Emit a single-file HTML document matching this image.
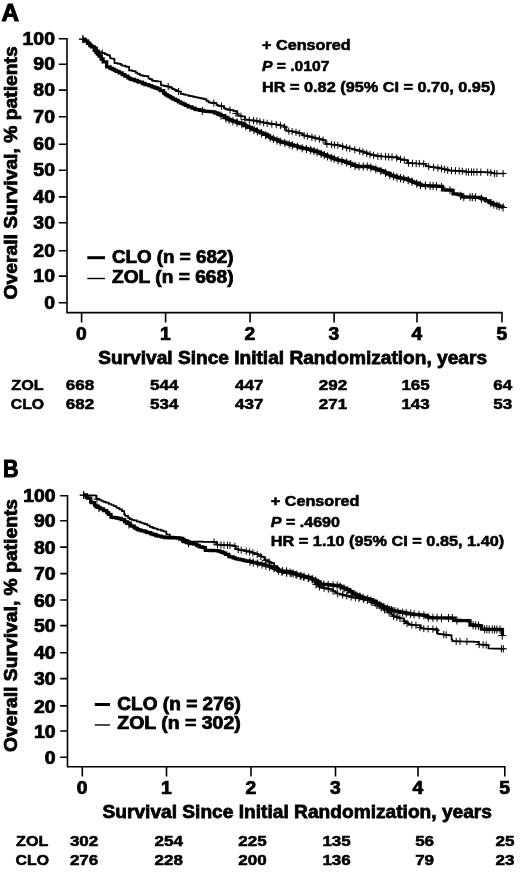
<!DOCTYPE html>
<html><head><meta charset="utf-8"><title>Overall survival</title>
<style>html,body{margin:0;padding:0;background:#fff}svg{display:block}text{font-family:"Liberation Sans", sans-serif;font-weight:bold;fill:#000;stroke:#000}</style>
</head><body>
<svg width="520" height="872" viewBox="0 0 520 872">
<rect width="520" height="872" fill="#fff"/>
<text transform="translate(1.60,21.10) scale(1.0373,1)" font-size="23.5" stroke-width="1.0">A</text>
<path d="M67.0 37.95V312.6H502.75" fill="none" stroke="#000" stroke-width="1.6"/>
<path d="M58.80 38.70H67.0M58.80 64.20H67.0M58.80 90.10H67.0M58.80 116.80H67.0M58.80 144.30H67.0M58.80 170.20H67.0M58.80 196.90H67.0M58.80 222.75H67.0M58.80 250.80H67.0M58.80 276.10H67.0M58.80 302.80H67.0M81.60 312.6V322.40M165.60 312.6V322.40M250.10 312.6V322.40M334.10 312.6V322.40M417.00 312.6V322.40M502.00 312.6V322.40" fill="none" stroke="#000" stroke-width="1.6"/>
<text transform="translate(22.55,44.60) scale(1.1100,1)" font-size="17.5" stroke-width="0.75">100</text>
<text transform="translate(33.35,70.10) scale(1.1100,1)" font-size="17.5" stroke-width="0.75">90</text>
<text transform="translate(33.35,96.00) scale(1.1100,1)" font-size="17.5" stroke-width="0.75">80</text>
<text transform="translate(33.35,122.70) scale(1.1100,1)" font-size="17.5" stroke-width="0.75">70</text>
<text transform="translate(33.35,150.20) scale(1.1100,1)" font-size="17.5" stroke-width="0.75">60</text>
<text transform="translate(33.35,176.10) scale(1.1100,1)" font-size="17.5" stroke-width="0.75">50</text>
<text transform="translate(33.35,202.80) scale(1.1100,1)" font-size="17.5" stroke-width="0.75">40</text>
<text transform="translate(33.35,228.65) scale(1.1100,1)" font-size="17.5" stroke-width="0.75">30</text>
<text transform="translate(33.35,256.70) scale(1.1100,1)" font-size="17.5" stroke-width="0.75">20</text>
<text transform="translate(33.35,282.00) scale(1.1100,1)" font-size="17.5" stroke-width="0.75">10</text>
<text transform="translate(44.15,308.70) scale(1.1100,1)" font-size="17.5" stroke-width="0.75">0</text>
<text transform="translate(76.05,340.00) scale(1.1000,1)" font-size="17.5" stroke-width="0.75">0</text>
<text transform="translate(160.05,340.00) scale(1.1000,1)" font-size="17.5" stroke-width="0.75">1</text>
<text transform="translate(244.55,340.00) scale(1.1000,1)" font-size="17.5" stroke-width="0.75">2</text>
<text transform="translate(328.55,340.00) scale(1.1000,1)" font-size="17.5" stroke-width="0.75">3</text>
<text transform="translate(411.45,340.00) scale(1.1000,1)" font-size="17.5" stroke-width="0.75">4</text>
<text transform="translate(496.45,340.00) scale(1.1000,1)" font-size="17.5" stroke-width="0.75">5</text>
<text transform="translate(16.80,299.50) rotate(-90) scale(1.0741,1)" font-size="18" stroke-width="0.75">Overall Survival, % patients</text>
<text transform="translate(98.20,363.80) scale(1.0625,1)" font-size="18" stroke-width="0.75">Survival Since Initial Randomization, years</text>
<text transform="translate(262.00,50.00) scale(1.1175,1)" font-size="14.5" stroke-width="0.55">+ Censored</text>
<text transform="translate(262.00,71.2) scale(1.0803,1)" font-size="14.5" stroke-width="0.55"><tspan font-style="italic">P</tspan> = .0107</text>
<text transform="translate(262.00,92.00) scale(1.1229,1)" font-size="14.5" stroke-width="0.55">HR = 0.82 (95% CI = 0.70, 0.95)</text>
<path d="M87.3 257.70H105" stroke="#000" stroke-width="3" fill="none"/>
<path d="M87.3 278.50H105" stroke="#000" stroke-width="1.4" fill="none"/>
<text transform="translate(112.00,262.50) scale(1.0733,1)" font-size="17.5" stroke-width="0.75">CLO (n = 682)</text>
<text transform="translate(112.00,283.30) scale(1.0953,1)" font-size="17.5" stroke-width="0.75">ZOL (n = 668)</text>
<text transform="translate(11.30,390.00) scale(1.0625,1)" font-size="15.2" stroke-width="0.55">ZOL</text>
<text transform="translate(65.80,390.00) scale(1.1200,1)" font-size="15.2" stroke-width="0.55">668</text>
<text transform="translate(150.05,390.00) scale(1.1200,1)" font-size="15.2" stroke-width="0.55">544</text>
<text transform="translate(235.05,390.00) scale(1.1200,1)" font-size="15.2" stroke-width="0.55">447</text>
<text transform="translate(318.80,390.00) scale(1.1200,1)" font-size="15.2" stroke-width="0.55">292</text>
<text transform="translate(401.40,390.00) scale(1.1200,1)" font-size="15.2" stroke-width="0.55">165</text>
<text transform="translate(493.28,390.00) scale(1.1200,1)" font-size="15.2" stroke-width="0.55">64</text>
<text transform="translate(10.80,408.60) scale(1.0409,1)" font-size="15.2" stroke-width="0.55">CLO</text>
<text transform="translate(65.80,408.60) scale(1.1200,1)" font-size="15.2" stroke-width="0.55">682</text>
<text transform="translate(150.05,408.60) scale(1.1200,1)" font-size="15.2" stroke-width="0.55">534</text>
<text transform="translate(235.05,408.60) scale(1.1200,1)" font-size="15.2" stroke-width="0.55">437</text>
<text transform="translate(318.80,408.60) scale(1.1200,1)" font-size="15.2" stroke-width="0.55">271</text>
<text transform="translate(401.40,408.60) scale(1.1200,1)" font-size="15.2" stroke-width="0.55">143</text>
<text transform="translate(493.28,408.60) scale(1.1200,1)" font-size="15.2" stroke-width="0.55">53</text>
<path d="M82.9 39.2L84.9 39.2L84.9 40.7L86.6 40.7L86.6 41.9L88.9 41.9L88.9 43.6L90.7 43.6L90.7 45.0L91.4 45.0L91.4 45.5L93.7 45.5L93.7 47.4L97.0 47.4L97.0 50.3L99.1 50.3L99.1 52.0L102.1 52.0L102.1 53.1L102.2 53.1L102.2 53.1L104.8 53.1L104.8 54.1L106.8 54.1L106.8 54.8L108.3 54.8L108.3 55.4L110.0 55.4L110.0 57.7L110.6 57.7L110.6 58.5L113.7 58.5L113.7 59.2L114.5 59.2L114.5 63.1L117.6 63.1L117.6 63.6L119.1 63.6L119.1 63.8L121.0 63.8L121.0 65.0L122.2 65.0L122.2 65.7L125.0 65.7L125.0 66.4L126.8 66.4L126.8 66.9L129.1 66.9L129.1 70.3L132.4 70.3L132.4 71.1L132.9 71.1L132.9 71.2L135.6 71.2L135.6 72.7L137.5 72.7L137.5 73.8L140.0 73.8L140.0 75.1L140.6 75.1L140.6 75.4L143.0 75.4L143.0 75.8L144.7 75.8L144.7 76.1L145.2 76.1L145.2 76.2L148.4 76.2L148.4 78.3L149.8 78.3L149.8 79.2L151.9 79.2L151.9 80.3L152.9 80.3L152.9 80.8L155.5 80.8L155.5 81.2L157.7 81.2L157.7 81.5L160.9 81.5L160.9 84.8L161.5 84.8L161.5 85.4L163.8 85.4L163.8 85.8L166.5 85.8L166.5 86.3L168.2 86.3L168.2 86.6L170.0 86.6L170.0 87.6L172.1 87.6L172.1 88.7L173.1 88.7L173.1 89.2L174.7 89.2L174.7 89.9L176.3 89.9L176.3 90.6L178.5 90.6L178.5 91.5L180.6 91.5L180.6 93.6L180.8 93.6L180.8 93.8L183.2 93.8L183.2 94.4L185.4 94.4L185.4 95.0L188.5 95.0L188.5 95.8L190.4 95.8L190.4 96.2L192.7 96.2L192.7 96.7L194.6 96.7L194.6 97.1L196.2 97.1L196.2 97.4L198.3 97.4L198.3 97.9L200.5 97.9L200.5 98.4L203.5 98.4L203.5 99.1L203.8 99.1L203.8 99.2L206.4 99.2L206.4 100.9L208.5 100.9L208.5 102.3L210.2 102.3L210.2 102.6L211.8 102.6L211.8 102.8L213.8 102.8L213.8 103.1L213.8 103.1L213.8 103.1L216.5 103.1L216.5 104.9L217.7 104.9L217.7 105.7L219.9 105.7L219.9 106.0L221.5 106.0L221.5 106.2L223.9 106.2L223.9 108.1L225.4 108.1L225.4 109.2L228.3 109.2L228.3 109.7L230.0 109.7L230.0 110.0L233.4 110.0L233.4 111.0L234.2 111.0L234.2 111.2L237.3 111.2L237.3 115.0L238.8 115.0L238.8 115.5L240.9 115.5L240.9 116.2L241.9 116.2L241.9 116.5L245.0 116.5L245.0 119.6L245.0 119.6L245.0 119.6L248.4 119.6L248.4 120.0L251.1 120.0L251.1 120.3L254.3 120.3L254.3 120.6L255.8 120.6L255.8 120.8L257.7 120.8L257.7 121.3L260.1 121.3L260.1 121.9L261.8 121.9L261.8 122.3L263.5 122.3L263.5 122.7L266.9 122.7L266.9 123.2L269.1 123.2L269.1 123.6L270.6 123.6L270.6 123.8L271.2 123.8L271.2 123.9L273.0 123.9L273.0 124.2L276.1 124.2L276.1 124.6L278.3 124.6L278.3 124.9L278.8 124.9L278.8 125.0L280.5 125.0L280.5 125.5L284.0 125.5L284.0 126.4L284.2 126.4L284.2 126.5L286.1 126.5L286.1 130.0L286.5 130.0L286.5 130.7L288.1 130.7L288.1 131.0L289.9 131.0L289.9 131.2L292.8 131.2L292.8 131.7L294.2 131.7L294.2 131.9L295.8 131.9L295.8 132.3L298.3 132.3L298.3 132.9L300.3 132.9L300.3 133.4L301.9 133.4L301.9 133.8L303.0 133.8L303.0 135.4L305.6 135.4L305.6 135.9L308.6 135.9L308.6 136.5L309.2 136.5L309.2 136.6L312.7 136.6L312.7 137.5L315.1 137.5L315.1 138.1L315.4 138.1L315.4 138.2L317.7 138.2L317.7 138.7L319.3 138.7L319.3 139.1L321.6 139.1L321.6 139.7L323.1 139.7L323.1 140.0L325.4 140.0L325.4 143.8L328.6 143.8L328.6 144.2L331.1 144.2L331.1 144.5L332.6 144.5L332.6 144.7L334.6 144.7L334.6 144.9L336.6 144.9L336.6 145.2L338.5 145.2L338.5 145.4L340.5 145.4L340.5 146.0L343.7 146.0L343.7 147.0L345.5 147.0L345.5 147.5L346.2 147.5L346.2 147.7L349.6 147.7L349.6 148.5L352.2 148.5L352.2 149.1L353.8 149.1L353.8 149.5L356.1 149.5L356.1 150.1L359.4 150.1L359.4 151.0L361.5 151.0L361.5 151.5L364.6 151.5L364.6 152.6L367.6 152.6L367.6 153.6L369.2 153.6L369.2 154.2L370.9 154.2L370.9 154.6L372.8 154.6L372.8 155.1L376.1 155.1L376.1 156.0L376.9 156.0L376.9 156.2L380.2 156.2L380.2 156.4L382.4 156.4L382.4 156.5L385.2 156.5L385.2 156.7L388.3 156.7L388.3 156.8L391.1 156.8L391.1 157.0L394.2 157.0L394.2 157.2L395.0 157.2L395.0 157.2L397.8 157.2L397.8 158.4L399.6 158.4L399.6 159.2L401.6 159.2L401.6 159.6L404.2 159.6L404.2 160.0L407.3 160.0L407.3 163.1L408.9 163.1L408.9 163.2L412.4 163.2L412.4 163.3L415.8 163.3L415.8 163.5L418.7 163.5L418.7 163.6L420.2 163.6L420.2 163.6L423.5 163.6L423.5 163.8L424.2 163.8L424.2 163.8L425.8 163.8L425.8 166.2L428.6 166.2L428.6 166.6L430.3 166.6L430.3 166.8L432.1 166.8L432.1 167.1L434.9 167.1L434.9 167.5L436.5 167.5L436.5 167.7L439.5 167.7L439.5 168.3L442.8 168.3L442.8 168.9L444.2 168.9L444.2 169.2L445.7 169.2L445.7 169.6L448.8 169.6L448.8 170.5L450.3 170.5L450.3 170.6L453.6 170.6L453.6 170.7L455.3 170.7L455.3 170.8L458.4 170.8L458.4 171.0L461.5 171.0L461.5 171.1L463.1 171.1L463.1 171.2L465.7 171.2L465.7 171.9L466.2 171.9L466.2 172.0L468.1 172.0L468.1 172.0L470.9 172.0L470.9 172.1L473.1 172.1L473.1 172.1L476.4 172.1L476.4 172.1L479.4 172.1L479.4 172.2L481.9 172.2L481.9 172.2L484.4 172.2L484.4 172.2L486.0 172.2L486.0 172.3L487.6 172.3L487.6 172.3L489.2 172.3L489.2 172.3L491.7 172.3L491.7 172.9L493.8 172.9L493.8 173.5L496.5 173.5L496.5 173.5L498.3 173.5L498.3 173.5L500.5 173.5L500.5 173.5L503.6 173.5L503.6 173.5L505.0 173.5L505.0 173.5" fill="none" stroke="#000" stroke-width="1.7" stroke-linejoin="miter"/><path d="M79.3 39.2H86.5M82.9 35.6V42.8M98.6 53.1H105.8M102.2 49.5V56.7M164.6 86.6H171.8M168.2 83.0V90.2M174.9 91.5H182.1M178.5 87.9V95.1M210.2 103.1H217.4M213.8 99.5V106.7M217.9 106.2H225.1M221.5 102.6V109.8M226.4 110.0H233.6M230.0 106.4V113.6M232.4 113.4H239.6M236.0 109.8V117.0M237.4 116.2H244.6M241.0 112.6V119.8M241.3 119.5H248.5M244.9 115.9V123.1M245.7 120.1H252.9M249.3 116.5V123.7M250.0 120.6H257.2M253.6 117.0V124.2M253.3 121.1H260.5M256.9 117.5V124.7M256.3 121.8H263.5M259.9 118.2V125.4M260.1 122.7H267.3M263.7 119.1V126.3M263.6 123.3H270.8M267.2 119.7V126.9M268.2 124.0H275.4M271.8 120.4V127.6M272.6 124.6H279.8M276.2 121.0V128.2M276.8 125.4H284.0M280.4 121.8V129.0M280.9 127.1H288.1M284.5 123.5V130.7M285.2 131.1H292.4M288.8 127.5V134.7M288.5 131.6H295.7M292.1 128.0V135.2M292.4 132.3H299.6M296.0 128.7V135.9M295.7 133.2H302.9M299.3 129.6V136.8M300.6 135.6H307.8M304.2 132.0V139.2M303.7 136.2H310.9M307.3 132.6V139.8M308.3 137.3H315.5M311.9 133.7V140.9M311.5 138.1H318.7M315.1 134.5V141.7M315.8 139.1H323.0M319.4 135.5V142.7M319.5 140.0H326.7M323.1 136.4V143.6M323.3 144.0H330.5M326.9 140.4V147.6M328.0 144.6H335.2M331.6 141.0V148.2M331.0 144.9H338.2M334.6 141.3V148.5M334.2 145.3H341.4M337.8 141.7V148.9M339.0 146.6H346.2M342.6 143.0V150.2M343.0 147.8H350.2M346.6 144.2V151.4M346.2 148.5H353.4M349.8 144.9V152.1M351.2 149.7H358.4M354.8 146.1V153.3M356.1 151.0H363.3M359.7 147.4V154.6M359.3 152.0H366.5M362.9 148.4V155.6M363.1 153.3H370.3M366.7 149.7V156.9M366.4 154.4H373.6M370.0 150.8V158.0M370.0 155.3H377.2M373.6 151.7V158.9M374.3 156.3H381.5M377.9 152.7V159.9M377.6 156.4H384.8M381.2 152.8V160.0M382.0 156.7H389.2M385.6 153.1V160.3M385.1 156.9H392.3M388.7 153.3V160.5M388.4 157.0H395.6M392.0 153.4V160.6M393.1 157.9H400.3M396.7 154.3V161.5M396.9 159.4H404.1M400.5 155.8V163.0M400.7 160.1H407.9M404.3 156.5V163.7M404.9 163.1H412.1M408.5 159.5V166.7M408.8 163.3H416.0M412.4 159.7V166.9M412.6 163.5H419.8M416.2 159.9V167.1M415.7 163.6H422.9M419.3 160.0V167.2M420.1 163.8H427.3M423.7 160.2V167.4M425.1 166.6H432.3M428.7 163.0V170.2M430.0 167.3H437.2M433.6 163.7V170.9M434.3 168.0H441.5M437.9 164.4V171.6M437.9 168.7H445.1M441.5 165.1V172.3M441.0 169.3H448.2M444.6 165.7V172.9M444.1 170.2H451.3M447.7 166.6V173.8M447.9 170.6H455.1M451.5 167.0V174.2M451.8 170.8H459.0M455.4 167.2V174.4M455.6 171.0H462.8M459.2 167.4V174.6M458.7 171.2H465.9M462.3 167.6V174.8M462.6 172.0H469.8M466.2 168.4V175.6M464.9 172.0H472.1M468.5 168.4V175.6M467.9 172.1H475.1M471.5 168.5V175.7M470.2 172.1H477.4M473.8 168.5V175.7M473.3 172.1H480.5M476.9 168.5V175.7M477.2 172.2H484.4M480.8 168.6V175.8M484.1 172.3H491.3M487.7 168.7V175.9M487.2 172.7H494.4M490.8 169.1V176.3M491.0 173.5H498.2M494.6 169.9V177.1M493.3 173.5H500.5M496.9 169.9V177.1M499.5 173.5H506.7M503.1 169.9V177.1" fill="none" stroke="#000" stroke-width="1.0"/><path d="M82.9 39.2L84.9 39.2L84.9 41.0L87.5 41.0L87.5 43.4L89.8 43.4L89.8 45.5L91.4 45.5L91.4 46.9L94.2 46.9L94.2 50.3L95.9 50.3L95.9 52.3L97.4 52.3L97.4 54.1L99.1 54.1L99.1 56.2L101.1 56.2L101.1 59.0L103.1 59.0L103.1 61.8L106.7 61.8L106.7 66.8L106.8 66.8L106.8 66.9L110.1 66.9L110.1 68.3L112.6 68.3L112.6 69.4L114.5 69.4L114.5 70.3L116.3 70.3L116.3 71.3L119.1 71.3L119.1 72.9L122.2 72.9L122.2 74.6L124.8 74.6L124.8 76.1L127.9 76.1L127.9 77.8L129.8 77.8L129.8 78.9L131.4 78.9L131.4 79.5L134.5 79.5L134.5 80.5L137.3 80.5L137.3 81.4L137.5 81.4L137.5 81.5L139.1 81.5L139.1 82.1L142.4 82.1L142.4 83.5L144.9 83.5L144.9 84.5L145.2 84.5L145.2 84.6L148.5 84.6L148.5 85.7L151.5 85.7L151.5 86.7L152.9 86.7L152.9 87.2L155.2 87.2L155.2 88.0L157.7 88.0L157.7 88.8L160.1 88.8L160.1 90.6L163.6 90.6L163.6 93.2L165.4 93.2L165.4 94.6L167.1 94.6L167.1 95.6L168.9 95.6L168.9 96.7L170.8 96.7L170.8 97.9L173.1 97.9L173.1 99.2L175.5 99.2L175.5 100.4L178.3 100.4L178.3 101.8L180.5 101.8L180.5 102.9L180.8 102.9L180.8 103.1L183.1 103.1L183.1 104.2L185.3 104.2L185.3 105.3L188.1 105.3L188.1 106.7L188.5 106.7L188.5 106.9L191.9 106.9L191.9 108.1L194.8 108.1L194.8 109.2L196.2 109.2L196.2 109.7L199.5 109.7L199.5 110.4L203.1 110.4L203.1 111.1L203.8 111.1L203.8 111.2L205.6 111.2L205.6 111.3L208.9 111.3L208.9 111.6L211.5 111.6L211.5 111.8L214.9 111.8L214.9 113.0L217.6 113.0L217.6 114.0L219.2 114.0L219.2 114.6L221.1 114.6L221.1 115.7L224.4 115.7L224.4 117.5L226.9 117.5L226.9 118.9L229.0 118.9L229.0 119.7L230.6 119.7L230.6 120.4L232.7 120.4L232.7 121.2L236.3 121.2L236.3 122.3L238.0 122.3L238.0 122.8L240.4 122.8L240.4 123.5L242.8 123.5L242.8 124.7L244.6 124.7L244.6 125.6L246.7 125.6L246.7 126.6L248.1 126.6L248.1 127.3L251.4 127.3L251.4 128.8L253.0 128.8L253.0 129.5L255.8 129.5L255.8 130.7L257.4 130.7L257.4 131.4L260.4 131.4L260.4 132.8L262.6 132.8L262.6 133.8L263.5 133.8L263.5 134.2L267.1 134.2L267.1 136.0L269.6 136.0L269.6 137.3L271.2 137.3L271.2 138.1L273.4 138.1L273.4 139.0L275.0 139.0L275.0 139.7L277.8 139.7L277.8 140.8L278.8 140.8L278.8 141.2L280.7 141.2L280.7 141.8L283.1 141.8L283.1 142.5L285.9 142.5L285.9 143.3L286.5 143.3L286.5 143.5L288.1 143.5L288.1 144.0L291.4 144.0L291.4 145.0L293.6 145.0L293.6 145.6L294.2 145.6L294.2 145.8L297.6 145.8L297.6 146.8L299.9 146.8L299.9 147.5L301.9 147.5L301.9 148.1L304.5 148.1L304.5 148.6L307.3 148.6L307.3 149.1L307.7 149.1L307.7 149.2L310.4 149.2L310.4 150.0L313.2 150.0L313.2 150.8L315.4 150.8L315.4 151.5L318.0 151.5L318.0 152.5L320.4 152.5L320.4 153.5L323.1 153.5L323.1 154.6L325.1 154.6L325.1 155.4L327.2 155.4L327.2 156.3L330.8 156.3L330.8 157.7L330.8 157.7L330.8 157.7L333.5 157.7L333.5 158.6L335.0 158.6L335.0 159.1L337.3 159.1L337.3 159.9L338.5 159.9L338.5 160.3L340.0 160.3L340.0 160.7L342.8 160.7L342.8 161.4L345.7 161.4L345.7 162.2L346.2 162.2L346.2 162.3L349.0 162.3L349.0 163.4L351.5 163.4L351.5 164.5L353.8 164.5L353.8 165.4L356.0 165.4L356.0 166.2L356.9 166.2L356.9 166.5L359.9 166.5L359.9 166.5L361.5 166.5L361.5 166.5L363.1 166.5L363.1 166.5L366.0 166.5L366.0 166.5L367.7 166.5L367.7 166.5L369.7 166.5L369.7 167.2L372.2 167.2L372.2 168.0L373.8 168.0L373.8 168.5L376.0 168.5L376.0 169.2L378.2 169.2L378.2 170.0L380.4 170.0L380.4 170.7L382.7 170.7L382.7 171.5L382.7 171.5L382.7 171.5L384.8 171.5L384.8 172.6L387.1 172.6L387.1 173.7L390.2 173.7L390.2 175.3L390.4 175.3L390.4 175.4L393.1 175.4L393.1 176.2L396.1 176.2L396.1 177.1L398.1 177.1L398.1 177.7L400.1 177.7L400.1 178.1L403.3 178.1L403.3 178.7L405.3 178.7L405.3 179.1L405.8 179.1L405.8 179.2L408.2 179.2L408.2 180.2L411.2 180.2L411.2 181.4L412.9 181.4L412.9 182.1L413.5 182.1L413.5 182.3L415.7 182.3L415.7 183.2L419.0 183.2L419.0 184.5L421.2 184.5L421.2 185.4L424.5 185.4L424.5 185.6L426.4 185.6L426.4 185.7L428.6 185.7L428.6 185.8L428.8 185.8L428.8 185.8L432.2 185.8L432.2 186.0L434.6 186.0L434.6 186.1L436.6 186.1L436.6 186.2L438.3 186.2L438.3 186.3L440.9 186.3L440.9 186.4L441.2 186.4L441.2 186.4L442.5 186.4L442.5 189.8L445.8 189.8L445.8 190.0L447.6 190.0L447.6 190.1L449.7 190.1L449.7 190.2L451.5 190.2L451.5 190.3L453.1 190.3L453.1 193.8L456.3 193.8L456.3 194.2L458.5 194.2L458.5 194.4L460.0 194.4L460.0 194.6L461.5 194.6L461.5 196.9L464.7 196.9L464.7 197.0L466.7 197.0L466.7 197.1L469.0 197.1L469.0 197.1L471.3 197.1L471.3 197.2L473.7 197.2L473.7 197.3L476.1 197.3L476.1 197.3L478.5 197.3L478.5 197.4L480.3 197.4L480.3 198.2L481.8 198.2L481.8 198.9L485.3 198.9L485.3 200.4L486.2 200.4L486.2 200.8L489.8 200.8L489.8 202.6L492.2 202.6L492.2 203.8L493.8 203.8L493.8 204.6L497.2 204.6L497.2 205.7L499.2 205.7L499.2 206.3L502.3 206.3L502.3 207.2L503.1 207.2L503.1 207.5" fill="none" stroke="#000" stroke-width="3.3" stroke-linejoin="miter"/><path d="M78.8 39.2H87.0M82.9 35.1V43.3M198.2 110.9H206.4M202.3 106.8V115.0M216.9 115.6H225.1M221.0 111.5V119.7M221.9 118.4H230.1M226.0 114.3V122.5M224.9 119.7H233.1M229.0 115.6V123.8M228.8 121.3H237.0M232.9 117.2V125.4M232.9 122.5H241.1M237.0 118.4V126.6M237.8 124.2H246.0M241.9 120.1V128.3M241.7 126.2H249.9M245.8 122.1V130.3M245.7 128.1H253.9M249.8 124.0V132.2M249.9 129.9H258.1M254.0 125.8V134.0M253.3 131.4H261.5M257.4 127.3V135.5M257.3 133.2H265.5M261.4 129.1V137.3M261.5 135.3H269.7M265.6 131.2V139.4M266.1 137.6H274.3M270.2 133.5V141.7M269.3 139.0H277.5M273.4 134.9V143.1M272.9 140.5H281.1M277.0 136.4V144.6M276.1 141.6H284.3M280.2 137.5V145.7M280.7 143.0H288.9M284.8 138.9V147.1M285.1 144.3H293.3M289.2 140.2V148.4M288.2 145.2H296.4M292.3 141.1V149.3M293.2 146.7H301.4M297.3 142.6V150.8M298.1 148.2H306.3M302.2 144.1V152.3M302.4 149.0H310.6M306.5 144.9V153.1M306.6 150.1H314.8M310.7 146.0V154.2M309.9 151.1H318.1M314.0 147.0V155.2M313.0 152.2H321.2M317.1 148.1V156.3M317.0 153.8H325.2M321.1 149.7V157.9M320.2 155.1H328.4M324.3 151.0V159.2M323.5 156.4H331.7M327.6 152.3V160.5M327.0 157.8H335.2M331.1 153.7V161.9M330.1 158.8H338.3M334.2 154.7V162.9M334.0 160.2H342.2M338.1 156.1V164.3M337.9 161.2H346.1M342.0 157.1V165.3M342.6 162.5H350.8M346.7 158.4V166.6M346.6 164.1H354.8M350.7 160.0V168.2M350.9 165.8H359.1M355.0 161.7V169.9M354.9 166.5H363.1M359.0 162.4V170.6M359.2 166.5H367.4M363.3 162.4V170.6M363.1 166.5H371.3M367.2 162.4V170.6M366.7 167.5H374.9M370.8 163.4V171.6M371.7 169.2H379.9M375.8 165.1V173.3M376.7 170.9H384.9M380.8 166.8V175.0M381.4 172.9H389.6M385.5 168.8V177.0M385.8 175.1H394.0M389.9 171.0V179.2M389.4 176.3H397.6M393.5 172.2V180.4M392.9 177.4H401.1M397.0 173.3V181.5M396.4 178.2H404.6M400.5 174.1V182.3M399.6 178.8H407.8M403.7 174.7V182.9M404.1 180.2H412.3M408.2 176.1V184.3M407.9 181.7H416.1M412.0 177.6V185.8M412.6 183.6H420.8M416.7 179.5V187.7M416.4 185.1H424.6M420.5 181.0V189.2M421.3 185.6H429.5M425.4 181.5V189.7M426.0 185.9H434.2M430.1 181.8V190.0M429.0 186.0H437.2M433.1 181.9V190.1M432.4 186.2H440.6M436.5 182.1V190.3M437.4 187.2H445.6M441.5 183.1V191.3M445.9 190.2H454.1M450.0 186.1V194.3M456.7 195.8H464.9M460.8 191.7V199.9M459.7 197.0H467.9M463.8 192.9V201.1M465.9 197.2H474.1M470.0 193.1V201.2M468.2 197.2H476.4M472.3 193.1V201.3M471.3 197.3H479.5M475.4 193.2V201.4M477.4 198.7H485.6M481.5 194.6V202.8M486.7 203.1H494.9M490.8 199.0V207.2M489.7 204.6H497.9M493.8 200.5V208.7M492.8 205.6H501.0M496.9 201.5V209.7M495.1 206.3H503.3M499.2 202.2V210.4M499.0 207.5H507.2M503.1 203.4V211.6" fill="none" stroke="#000" stroke-width="1.0"/>
<text transform="translate(2.90,477.30) scale(0.9135,1)" font-size="23.5" stroke-width="1.0">B</text>
<path d="M67.5 494.95V766.7H505.55" fill="none" stroke="#000" stroke-width="1.6"/>
<path d="M60.20 495.70H67.5M60.20 520.80H67.5M60.20 547.10H67.5M60.20 573.60H67.5M60.20 600.00H67.5M60.20 625.60H67.5M60.20 652.70H67.5M60.20 678.60H67.5M60.20 705.90H67.5M60.20 731.00H67.5M60.20 757.30H67.5M82.30 766.7V776.50M166.50 766.7V776.50M251.00 766.7V776.50M335.50 766.7V776.50M418.00 766.7V776.50M504.80 766.7V776.50" fill="none" stroke="#000" stroke-width="1.6"/>
<text transform="translate(23.20,502.30) scale(1.1100,1)" font-size="17.5" stroke-width="0.75">100</text>
<text transform="translate(34.00,527.40) scale(1.1100,1)" font-size="17.5" stroke-width="0.75">90</text>
<text transform="translate(34.00,553.70) scale(1.1100,1)" font-size="17.5" stroke-width="0.75">80</text>
<text transform="translate(34.00,580.20) scale(1.1100,1)" font-size="17.5" stroke-width="0.75">70</text>
<text transform="translate(34.00,606.60) scale(1.1100,1)" font-size="17.5" stroke-width="0.75">60</text>
<text transform="translate(34.00,632.20) scale(1.1100,1)" font-size="17.5" stroke-width="0.75">50</text>
<text transform="translate(34.00,659.30) scale(1.1100,1)" font-size="17.5" stroke-width="0.75">40</text>
<text transform="translate(34.00,685.20) scale(1.1100,1)" font-size="17.5" stroke-width="0.75">30</text>
<text transform="translate(34.00,712.50) scale(1.1100,1)" font-size="17.5" stroke-width="0.75">20</text>
<text transform="translate(34.00,737.60) scale(1.1100,1)" font-size="17.5" stroke-width="0.75">10</text>
<text transform="translate(44.80,763.90) scale(1.1100,1)" font-size="17.5" stroke-width="0.75">0</text>
<text transform="translate(76.75,794.20) scale(1.1000,1)" font-size="17.5" stroke-width="0.75">0</text>
<text transform="translate(160.95,794.20) scale(1.1000,1)" font-size="17.5" stroke-width="0.75">1</text>
<text transform="translate(245.45,794.20) scale(1.1000,1)" font-size="17.5" stroke-width="0.75">2</text>
<text transform="translate(329.95,794.20) scale(1.1000,1)" font-size="17.5" stroke-width="0.75">3</text>
<text transform="translate(412.45,794.20) scale(1.1000,1)" font-size="17.5" stroke-width="0.75">4</text>
<text transform="translate(499.25,794.20) scale(1.1000,1)" font-size="17.5" stroke-width="0.75">5</text>
<text transform="translate(16.80,752.00) rotate(-90) scale(1.0724,1)" font-size="18" stroke-width="0.75">Overall Survival, % patients</text>
<text transform="translate(102.50,817.50) scale(1.0644,1)" font-size="18" stroke-width="0.75">Survival Since Initial Randomization, years</text>
<text transform="translate(270.80,505.70) scale(1.1175,1)" font-size="14.5" stroke-width="0.55">+ Censored</text>
<text transform="translate(270.80,526.9) scale(1.1075,1)" font-size="14.5" stroke-width="0.55"><tspan font-style="italic">P</tspan> = .4690</text>
<text transform="translate(270.80,545.60) scale(1.1229,1)" font-size="14.5" stroke-width="0.55">HR = 1.10 (95% CI = 0.85, 1.40)</text>
<path d="M94.8 704.50H110" stroke="#000" stroke-width="3" fill="none"/>
<path d="M94.8 725.00H110" stroke="#000" stroke-width="1.4" fill="none"/>
<text transform="translate(117.30,709.60) scale(1.0901,1)" font-size="17.5" stroke-width="0.75">CLO (n = 276)</text>
<text transform="translate(117.30,729.00) scale(1.1124,1)" font-size="17.5" stroke-width="0.75">ZOL (n = 302)</text>
<text transform="translate(16.10,846.10) scale(1.0625,1)" font-size="15.2" stroke-width="0.55">ZOL</text>
<text transform="translate(69.90,846.10) scale(1.1200,1)" font-size="15.2" stroke-width="0.55">302</text>
<text transform="translate(154.55,846.10) scale(1.1200,1)" font-size="15.2" stroke-width="0.55">254</text>
<text transform="translate(238.30,846.10) scale(1.1200,1)" font-size="15.2" stroke-width="0.55">225</text>
<text transform="translate(322.40,846.10) scale(1.1200,1)" font-size="15.2" stroke-width="0.55">135</text>
<text transform="translate(415.13,846.10) scale(1.1200,1)" font-size="15.2" stroke-width="0.55">56</text>
<text transform="translate(495.53,846.10) scale(1.1200,1)" font-size="15.2" stroke-width="0.55">25</text>
<text transform="translate(15.60,864.80) scale(1.0409,1)" font-size="15.2" stroke-width="0.55">CLO</text>
<text transform="translate(69.90,864.80) scale(1.1200,1)" font-size="15.2" stroke-width="0.55">276</text>
<text transform="translate(154.55,864.80) scale(1.1200,1)" font-size="15.2" stroke-width="0.55">228</text>
<text transform="translate(238.30,864.80) scale(1.1200,1)" font-size="15.2" stroke-width="0.55">200</text>
<text transform="translate(322.40,864.80) scale(1.1200,1)" font-size="15.2" stroke-width="0.55">136</text>
<text transform="translate(415.13,864.80) scale(1.1200,1)" font-size="15.2" stroke-width="0.55">79</text>
<text transform="translate(495.53,864.80) scale(1.1200,1)" font-size="15.2" stroke-width="0.55">23</text>
<path d="M83.7 495.3L86.8 495.3L86.8 495.4L89.9 495.4L89.9 495.4L92.4 495.4L92.4 495.4L94.4 495.4L94.4 495.5L95.9 495.5L95.9 495.5L96.0 495.5L96.0 495.5L96.2 495.5L96.2 498.8L99.2 498.8L99.2 500.0L101.5 500.0L101.5 501.0L103.7 501.0L103.7 501.9L105.7 501.9L105.7 502.7L108.8 502.7L108.8 504.0L111.4 504.0L111.4 505.0L113.7 505.0L113.7 506.2L116.3 506.2L116.3 507.5L117.5 507.5L117.5 508.1L119.4 508.1L119.4 509.3L122.0 509.3L122.0 511.1L122.2 511.1L122.2 511.2L124.2 511.2L124.2 514.3L125.2 514.3L125.2 515.8L128.1 515.8L128.1 517.9L129.8 517.9L129.8 519.2L132.0 519.2L132.0 519.9L133.7 519.9L133.7 520.4L136.8 520.4L136.8 521.4L137.5 521.4L137.5 521.6L139.9 521.6L139.9 522.4L141.6 522.4L141.6 523.0L143.5 523.0L143.5 523.6L145.2 523.6L145.2 524.2L147.3 524.2L147.3 525.4L149.8 525.4L149.8 526.8L152.5 526.8L152.5 527.8L154.4 527.8L154.4 528.5L157.2 528.5L157.2 529.5L157.7 529.5L157.7 529.7L161.1 529.7L161.1 530.7L163.8 530.7L163.8 531.5L166.3 531.5L166.3 534.0L166.9 534.0L166.9 534.6L169.8 534.6L169.8 536.4L170.0 536.4L170.0 536.5L173.5 536.5L173.5 536.9L175.0 536.9L175.0 537.1L177.2 537.1L177.2 537.3L179.9 537.3L179.9 537.6L180.8 537.6L180.8 537.7L183.5 537.7L183.5 539.1L185.2 539.1L185.2 539.9L186.9 539.9L186.9 540.8L189.5 540.8L189.5 541.4L190.0 541.4L190.0 541.5L192.8 541.5L192.8 541.6L195.0 541.6L195.0 541.6L196.8 541.6L196.8 541.6L199.3 541.6L199.3 541.7L201.1 541.7L201.1 541.7L203.0 541.7L203.0 541.8L206.2 541.8L206.2 541.8L209.1 541.8L209.1 541.9L210.7 541.9L210.7 541.9L213.7 541.9L213.7 542.0L214.6 542.0L214.6 542.0L216.2 542.0L216.2 544.6L219.5 544.6L219.5 544.8L222.2 544.8L222.2 545.0L224.4 545.0L224.4 545.1L226.6 545.1L226.6 545.2L228.9 545.2L228.9 545.3L230.0 545.3L230.0 545.4L233.5 545.4L233.5 546.0L235.0 546.0L235.0 546.2L235.8 546.2L235.8 549.2L238.8 549.2L238.8 549.8L241.1 549.8L241.1 550.2L244.6 550.2L244.6 550.8L246.5 550.8L246.5 551.2L248.1 551.2L248.1 551.5L251.4 551.5L251.4 552.5L254.2 552.5L254.2 553.3L255.8 553.3L255.8 553.8L258.2 553.8L258.2 555.0L261.4 555.0L261.4 556.6L261.9 556.6L261.9 556.9L264.4 556.9L264.4 559.4L265.0 559.4L265.0 560.0L267.9 560.0L267.9 561.5L270.2 561.5L270.2 562.6L271.2 562.6L271.2 563.1L274.2 563.1L274.2 566.2L274.2 566.2L274.2 566.2L276.7 566.2L276.7 568.2L278.8 568.2L278.8 570.0L280.6 570.0L280.6 571.2L282.2 571.2L282.2 572.2L283.5 572.2L283.5 573.1L286.2 573.1L286.2 573.2L288.4 573.2L288.4 573.3L289.6 573.3L289.6 573.4L292.0 573.4L292.0 573.9L295.4 573.9L295.4 574.5L295.8 574.5L295.8 574.6L298.1 574.6L298.1 575.4L301.4 575.4L301.4 576.5L304.1 576.5L304.1 577.4L305.0 577.4L305.0 577.7L307.4 577.7L307.4 578.3L309.9 578.3L309.9 579.0L311.7 579.0L311.7 579.4L312.3 579.4L312.3 579.6L314.4 579.6L314.4 582.7L315.4 582.7L315.4 584.2L317.5 584.2L317.5 585.6L320.0 585.6L320.0 587.3L323.4 587.3L323.4 588.0L326.8 588.0L326.8 588.7L329.0 588.7L329.0 589.2L330.8 589.2L330.8 589.6L332.9 589.6L332.9 591.0L335.2 591.0L335.2 592.4L336.9 592.4L336.9 593.5L340.0 593.5L340.0 594.3L343.4 594.3L343.4 595.1L345.4 595.1L345.4 595.6L346.2 595.6L346.2 595.8L348.6 595.8L348.6 596.4L350.2 596.4L350.2 596.8L351.8 596.8L351.8 597.2L352.3 597.2L352.3 597.3L354.0 597.3L354.0 597.6L357.0 597.6L357.0 598.1L359.2 598.1L359.2 598.4L361.5 598.4L361.5 598.8L364.7 598.8L364.7 599.6L366.3 599.6L366.3 600.1L368.2 600.1L368.2 600.5L369.2 600.5L369.2 600.8L371.9 600.8L371.9 602.5L374.3 602.5L374.3 604.0L375.0 604.0L375.0 604.5L378.1 604.5L378.1 606.2L380.6 606.2L380.6 607.6L382.3 607.6L382.3 608.5L384.0 608.5L384.0 609.5L386.2 609.5L386.2 610.9L388.0 610.9L388.0 612.0L388.5 612.0L388.5 612.3L391.2 612.3L391.2 614.6L393.0 614.6L393.0 616.1L393.1 616.1L393.1 616.2L394.8 616.2L394.8 616.7L396.5 616.7L396.5 617.2L399.3 617.2L399.3 618.1L400.8 618.1L400.8 618.5L404.1 618.5L404.1 621.2L405.4 621.2L405.4 622.3L408.3 622.3L408.3 624.5L408.5 624.5L408.5 624.6L411.7 624.6L411.7 624.9L413.3 624.9L413.3 625.0L416.1 625.0L416.1 625.3L417.7 625.3L417.7 625.4L420.8 625.4L420.8 628.5L424.1 628.5L424.1 628.6L426.5 628.6L426.5 628.8L429.4 628.8L429.4 628.9L432.5 628.9L432.5 629.0L434.2 629.0L434.2 629.1L436.2 629.1L436.2 629.2L437.7 629.2L437.7 633.8L440.1 633.8L440.1 634.1L443.1 634.1L443.1 634.5L445.5 634.5L445.5 634.8L447.6 634.8L447.6 635.1L450.0 635.1L450.0 635.4L451.6 635.4L451.6 639.5L452.3 639.5L452.3 641.2L455.8 641.2L455.8 641.3L457.8 641.3L457.8 641.4L461.2 641.4L461.2 641.5L462.9 641.5L462.9 641.5L466.1 641.5L466.1 641.6L468.2 641.6L468.2 641.7L471.6 641.7L471.6 641.7L473.9 641.7L473.9 641.8L476.9 641.8L476.9 641.9L478.5 641.9L478.5 644.4L478.5 644.4L478.5 644.5L481.6 644.5L481.6 644.7L484.4 644.7L484.4 644.9L486.9 644.9L486.9 645.0L488.5 645.0L488.5 648.4L488.5 648.4L488.5 648.5L490.7 648.5L490.7 648.5L492.3 648.5L492.3 648.6L495.8 648.6L495.8 648.6L498.9 648.6L498.9 648.7L502.3 648.7L502.3 648.8L503.8 648.8L503.8 648.8" fill="none" stroke="#000" stroke-width="1.7" stroke-linejoin="miter"/><path d="M80.1 495.3H87.3M83.7 491.7V498.9M93.4 499.1H100.6M97.0 495.5V502.7M210.4 542.0H217.6M214.0 538.4V545.6M213.9 544.7H221.1M217.5 541.1V548.3M217.4 544.9H224.6M221.0 541.3V548.5M220.4 545.1H227.6M224.0 541.5V548.7M223.9 545.3H231.1M227.5 541.7V548.9M226.4 545.4H233.6M230.0 541.8V549.0M231.3 546.2H238.5M234.9 542.6V549.8M234.6 549.6H241.8M238.2 546.0V553.2M237.6 550.2H244.8M241.2 546.6V553.8M242.6 551.2H249.8M246.2 547.6V554.8M246.0 552.0H253.2M249.6 548.4V555.6M249.3 552.9H256.5M252.9 549.3V556.5M253.6 554.5H260.8M257.2 550.9V558.1M257.2 556.4H264.4M260.8 552.8V560.0M262.0 560.3H269.2M265.6 556.7V563.9M265.5 562.0H272.7M269.1 558.4V565.6M270.4 566.0H277.6M274.0 562.4V569.6M274.0 569.0H281.2M277.6 565.4V572.6M278.2 572.0H285.4M281.8 568.4V575.6M283.1 573.3H290.3M286.7 569.7V576.9M287.5 573.7H294.7M291.1 570.1V577.3M292.3 574.6H299.5M295.9 571.0V578.2M296.7 576.1H303.9M300.3 572.5V579.7M299.8 577.2H307.0M303.4 573.6V580.8M304.6 578.5H311.8M308.2 574.9V582.1M308.8 579.7H316.0M312.4 576.1V583.3M312.4 584.6H319.6M316.0 581.0V588.2M315.8 586.9H323.0M319.4 583.3V590.5M320.5 588.2H327.7M324.1 584.6V591.8M324.7 589.1H331.9M328.3 585.5V592.7M329.5 591.1H336.7M333.1 587.5V594.7M334.1 593.7H341.3M337.7 590.1V597.3M339.0 594.9H346.2M342.6 591.3V598.5M343.1 595.9H350.3M346.7 592.3V599.5M347.5 597.0H354.7M351.1 593.4V600.6M351.8 597.8H359.0M355.4 594.2V601.4M355.3 598.4H362.5M358.9 594.8V602.0M360.2 599.4H367.4M363.8 595.8V603.0M363.8 600.3H371.0M367.4 596.7V603.9M368.4 602.6H375.6M372.0 599.0V606.2M373.3 605.5H380.5M376.9 601.9V609.1M377.6 607.9H384.8M381.2 604.3V611.5M380.9 609.8H388.1M384.5 606.2V613.4M385.5 612.8H392.7M389.1 609.2V616.4M389.9 616.3H397.1M393.5 612.7V619.9M393.2 617.3H400.4M396.8 613.7V620.9M396.3 618.2H403.5M399.9 614.6V621.8M400.4 621.1H407.6M404.0 617.5V624.7M403.4 623.5H410.6M407.0 619.9V627.1M408.3 624.9H415.5M411.9 621.3V628.5M412.3 625.2H419.5M415.9 621.6V628.8M416.3 627.6H423.5M419.9 624.0V631.2M420.2 628.6H427.4M423.8 625.0V632.2M424.5 628.8H431.7M428.1 625.2V632.4M429.3 629.1H436.5M432.9 625.5V632.7M432.9 630.2H440.1M436.5 626.6V633.8M440.2 634.6H447.4M443.8 631.0V638.2M442.6 634.9H449.8M446.2 631.3V638.5M452.6 641.3H459.8M456.2 637.7V644.9M456.4 641.4H463.6M460.0 637.8V645.0M463.3 641.6H470.5M466.9 638.0V645.2M475.6 644.5H482.8M479.2 640.9V648.1M479.5 644.8H486.7M483.1 641.2V648.4M482.6 645.0H489.8M486.2 641.4V648.6M497.9 648.8H505.1M501.5 645.2V652.4M499.8 648.8H507.0M503.4 645.2V652.4" fill="none" stroke="#000" stroke-width="1.0"/><path d="M83.7 495.0L86.5 495.0L86.5 497.3L87.5 497.3L87.5 498.1L90.7 498.1L90.7 501.8L91.4 501.8L91.4 502.7L94.5 502.7L94.5 505.2L96.0 505.2L96.0 506.5L97.6 506.5L97.6 507.3L100.0 507.3L100.0 508.5L100.6 508.5L100.6 508.8L103.5 508.8L103.5 510.6L106.8 510.6L106.8 512.7L108.5 512.7L108.5 514.4L111.0 514.4L111.0 516.9L111.4 516.9L111.4 517.3L114.0 517.3L114.0 517.7L116.7 517.7L116.7 518.1L118.3 518.1L118.3 518.4L119.1 518.4L119.1 518.5L121.2 518.5L121.2 519.7L124.6 519.7L124.6 521.6L125.2 521.6L125.2 521.9L127.0 521.9L127.0 523.2L130.2 523.2L130.2 525.4L131.4 525.4L131.4 526.2L134.2 526.2L134.2 527.8L136.0 527.8L136.0 528.7L137.5 528.7L137.5 529.6L137.5 529.6L137.5 529.6L139.4 529.6L139.4 530.2L141.4 530.2L141.4 530.8L145.0 530.8L145.0 531.8L145.2 531.8L145.2 531.9L147.3 531.9L147.3 532.6L150.8 532.6L150.8 533.8L152.9 533.8L152.9 534.5L155.8 534.5L155.8 535.5L157.7 535.5L157.7 536.2L161.2 536.2L161.2 536.9L164.1 536.9L164.1 537.5L165.4 537.5L165.4 537.7L168.8 537.7L168.8 537.8L170.9 537.8L170.9 537.8L173.2 537.8L173.2 537.9L175.0 537.9L175.0 537.9L176.8 537.9L176.8 538.0L177.7 538.0L177.7 538.0L179.8 538.0L179.8 539.2L182.6 539.2L182.6 540.8L183.8 540.8L183.8 541.5L186.7 541.5L186.7 542.5L188.5 542.5L188.5 543.1L190.7 543.1L190.7 543.5L193.9 543.5L193.9 544.1L194.6 544.1L194.6 544.2L196.8 544.2L196.8 545.5L199.2 545.5L199.2 546.9L202.2 546.9L202.2 547.4L203.8 547.4L203.8 547.7L203.8 547.7L203.8 547.7L205.3 547.7L205.3 550.2L205.4 550.2L205.4 550.3L208.7 550.3L208.7 550.4L210.2 550.4L210.2 550.5L213.4 550.5L213.4 550.6L215.6 550.6L215.6 550.7L217.7 550.7L217.7 550.8L219.2 550.8L219.2 551.4L220.8 551.4L220.8 552.0L222.7 552.0L222.7 552.7L223.8 552.7L223.8 553.1L225.7 553.1L225.7 554.4L228.8 554.4L228.8 556.4L229.6 556.4L229.6 556.9L233.1 556.9L233.1 557.9L235.3 557.9L235.3 558.6L237.3 558.6L237.3 559.2L239.9 559.2L239.9 559.7L243.0 559.7L243.0 560.4L244.8 560.4L244.8 560.7L245.0 560.7L245.0 560.8L248.2 560.8L248.2 561.4L251.5 561.4L251.5 562.1L252.7 562.1L252.7 562.3L256.2 562.3L256.2 563.2L257.9 563.2L257.9 563.6L260.1 563.6L260.1 564.1L260.4 564.1L260.4 564.2L263.8 564.2L263.8 565.1L266.0 565.1L266.0 565.7L268.1 565.7L268.1 566.2L270.7 566.2L270.7 567.2L272.9 567.2L272.9 568.0L274.2 568.0L274.2 568.5L276.1 568.5L276.1 569.4L277.7 569.4L277.7 570.3L278.8 570.3L278.8 570.8L281.7 570.8L281.7 571.1L285.3 571.1L285.3 571.4L286.5 571.4L286.5 571.5L288.1 571.5L288.1 572.0L291.7 572.0L291.7 573.0L294.2 573.0L294.2 573.8L296.6 573.8L296.6 574.5L298.6 574.5L298.6 575.2L301.3 575.2L301.3 576.0L301.9 576.0L301.9 576.2L304.4 576.2L304.4 576.7L306.7 576.7L306.7 577.1L307.7 577.1L307.7 577.3L311.1 577.3L311.1 578.7L312.7 578.7L312.7 579.3L315.2 579.3L315.2 580.3L315.4 580.3L315.4 580.4L317.2 580.4L317.2 581.9L320.0 581.9L320.0 584.2L323.5 584.2L323.5 584.5L326.3 584.5L326.3 584.7L329.5 584.7L329.5 585.0L331.2 585.0L331.2 585.2L333.6 585.2L333.6 585.4L335.4 585.4L335.4 585.5L338.5 585.5L338.5 585.8L340.6 585.8L340.6 586.8L343.1 586.8L343.1 588.1L346.2 588.1L346.2 589.6L349.5 589.6L349.5 591.6L353.0 591.6L353.0 593.7L353.8 593.7L353.8 594.2L356.3 594.2L356.3 595.2L359.4 595.2L359.4 596.4L361.5 596.4L361.5 597.3L363.6 597.3L363.6 597.9L366.0 597.9L366.0 598.6L367.8 598.6L367.8 599.2L369.2 599.2L369.2 599.6L372.8 599.6L372.8 601.5L376.3 601.5L376.3 603.3L377.7 603.3L377.7 604.0L380.2 604.0L380.2 605.2L382.5 605.2L382.5 606.3L384.1 606.3L384.1 607.1L385.4 607.1L385.4 607.7L388.5 607.7L388.5 609.0L391.9 609.0L391.9 610.3L393.1 610.3L393.1 610.8L396.3 610.8L396.3 611.4L399.4 611.4L399.4 612.0L400.8 612.0L400.8 612.3L403.7 612.3L403.7 612.9L406.8 612.9L406.8 613.5L408.5 613.5L408.5 613.8L411.5 613.8L411.5 614.1L413.6 614.1L413.6 614.3L416.1 614.3L416.1 614.6L416.2 614.6L416.2 614.6L419.2 614.6L419.2 614.9L421.3 614.9L421.3 615.1L423.8 615.1L423.8 615.4L426.7 615.4L426.7 616.8L428.5 616.8L428.5 617.7L430.0 617.7L430.0 617.7L432.7 617.7L432.7 617.8L434.7 617.8L434.7 617.8L437.6 617.8L437.6 617.8L440.1 617.8L440.1 617.9L443.3 617.9L443.3 617.9L446.2 617.9L446.2 618.0L449.3 618.0L449.3 618.0L451.6 618.0L451.6 618.1L453.1 618.1L453.1 618.1L454.6 618.1L454.6 620.4L457.8 620.4L457.8 620.5L460.1 620.5L460.1 620.6L463.3 620.6L463.3 620.7L466.7 620.7L466.7 620.7L468.5 620.7L468.5 620.8L470.0 620.8L470.0 625.0L473.5 625.0L473.5 625.3L476.1 625.3L476.1 625.5L478.7 625.5L478.7 625.7L480.0 625.7L480.0 625.8L481.5 625.8L481.5 629.2L485.0 629.2L485.0 629.3L487.5 629.3L487.5 629.3L490.4 629.3L490.4 629.4L493.4 629.4L493.4 629.4L496.5 629.4L496.5 629.5L498.3 629.5L498.3 629.5L500.8 629.5L500.8 629.6L502.4 629.6L502.4 636.0" fill="none" stroke="#000" stroke-width="3.3" stroke-linejoin="miter"/><path d="M79.6 495.0H87.8M83.7 490.9V499.1M94.9 508.0H103.1M99.0 503.9V512.1M124.9 524.5H133.1M129.0 520.4V528.6M184.4 543.1H192.6M188.5 539.0V547.2M245.9 561.8H254.1M250.0 557.7V565.9M249.2 562.5H257.4M253.3 558.4V566.6M253.6 563.5H261.8M257.7 559.4V567.6M257.9 564.6H266.1M262.0 560.5V568.7M261.8 565.6H270.0M265.9 561.5V569.7M265.3 566.7H273.5M269.4 562.6V570.8M269.9 568.4H278.1M274.0 564.3V572.5M274.5 570.7H282.7M278.6 566.6V574.8M278.5 571.1H286.7M282.6 567.0V575.2M282.5 571.5H290.7M286.6 567.4V575.6M286.0 572.6H294.2M290.1 568.5V576.7M289.0 573.5H297.2M293.1 569.4V577.6M292.7 574.6H300.9M296.8 570.5V578.7M296.9 575.9H305.1M301.0 571.8V580.0M300.0 576.6H308.2M304.1 572.5V580.7M304.6 577.7H312.8M308.7 573.6V581.8M308.1 579.1H316.3M312.2 575.0V583.2M311.6 580.6H319.8M315.7 576.5V584.7M314.6 583.2H322.8M318.7 579.1V587.3M319.6 584.5H327.8M323.7 580.4V588.6M324.1 584.9H332.3M328.2 580.8V589.0M328.9 585.3H337.1M333.0 581.2V589.4M333.1 585.7H341.3M337.2 581.6V589.8M336.2 586.7H344.4M340.3 582.6V590.8M339.8 588.5H348.0M343.9 584.4V592.6M343.8 590.6H352.0M347.9 586.5V594.7M347.0 592.6H355.2M351.1 588.5V596.7M351.9 595.1H360.1M356.0 591.0V599.2M355.7 596.6H363.9M359.8 592.5V600.7M359.0 597.8H367.2M363.1 593.7V601.9M363.6 599.2H371.8M367.7 595.1V603.3M366.9 600.5H375.1M371.0 596.4V604.6M371.7 603.0H379.9M375.8 598.9V607.1M375.6 605.0H383.8M379.7 600.9V609.1M379.7 607.0H387.9M383.8 602.9V611.1M383.4 608.6H391.6M387.5 604.5V612.7M387.4 610.2H395.6M391.5 606.1V614.3M390.8 611.1H399.0M394.9 607.0V615.2M393.8 611.7H402.0M397.9 607.6V615.8M398.6 612.7H406.8M402.7 608.6V616.8M402.1 613.3H410.3M406.2 609.2V617.4M406.6 614.0H414.8M410.7 609.9V618.1M410.0 614.4H418.2M414.1 610.3V618.5M415.0 614.9H423.2M419.1 610.8V619.0M419.8 615.4H428.0M423.9 611.3V619.5M424.3 617.6H432.5M428.4 613.5V621.7M428.8 617.8H437.0M432.9 613.7V621.9M433.0 617.8H441.2M437.1 613.7V621.9M437.4 617.9H445.6M441.5 613.8V622.0M444.4 618.0H452.6M448.5 613.9V622.1M448.2 618.1H456.4M452.3 614.0V622.2M452.8 620.5H461.0M456.9 616.4V624.6M469.0 625.2H477.2M473.1 621.1V629.3M471.6 625.5H479.8M475.7 621.4V629.6M474.4 625.7H482.6M478.5 621.6V629.8M480.5 629.3H488.7M484.6 625.2V633.4M482.8 629.3H491.0M486.9 625.2V633.4M485.1 629.4H493.3M489.2 625.3V633.5M488.2 629.4H496.4M492.3 625.3V633.5M490.5 629.5H498.7M494.6 625.4V633.6M492.8 629.5H501.0M496.9 625.4V633.6M495.9 629.6H504.1M500.0 625.5V633.7M498.2 635.6H506.4M502.3 631.5V639.7" fill="none" stroke="#000" stroke-width="1.0"/>
</svg>
</body></html>
